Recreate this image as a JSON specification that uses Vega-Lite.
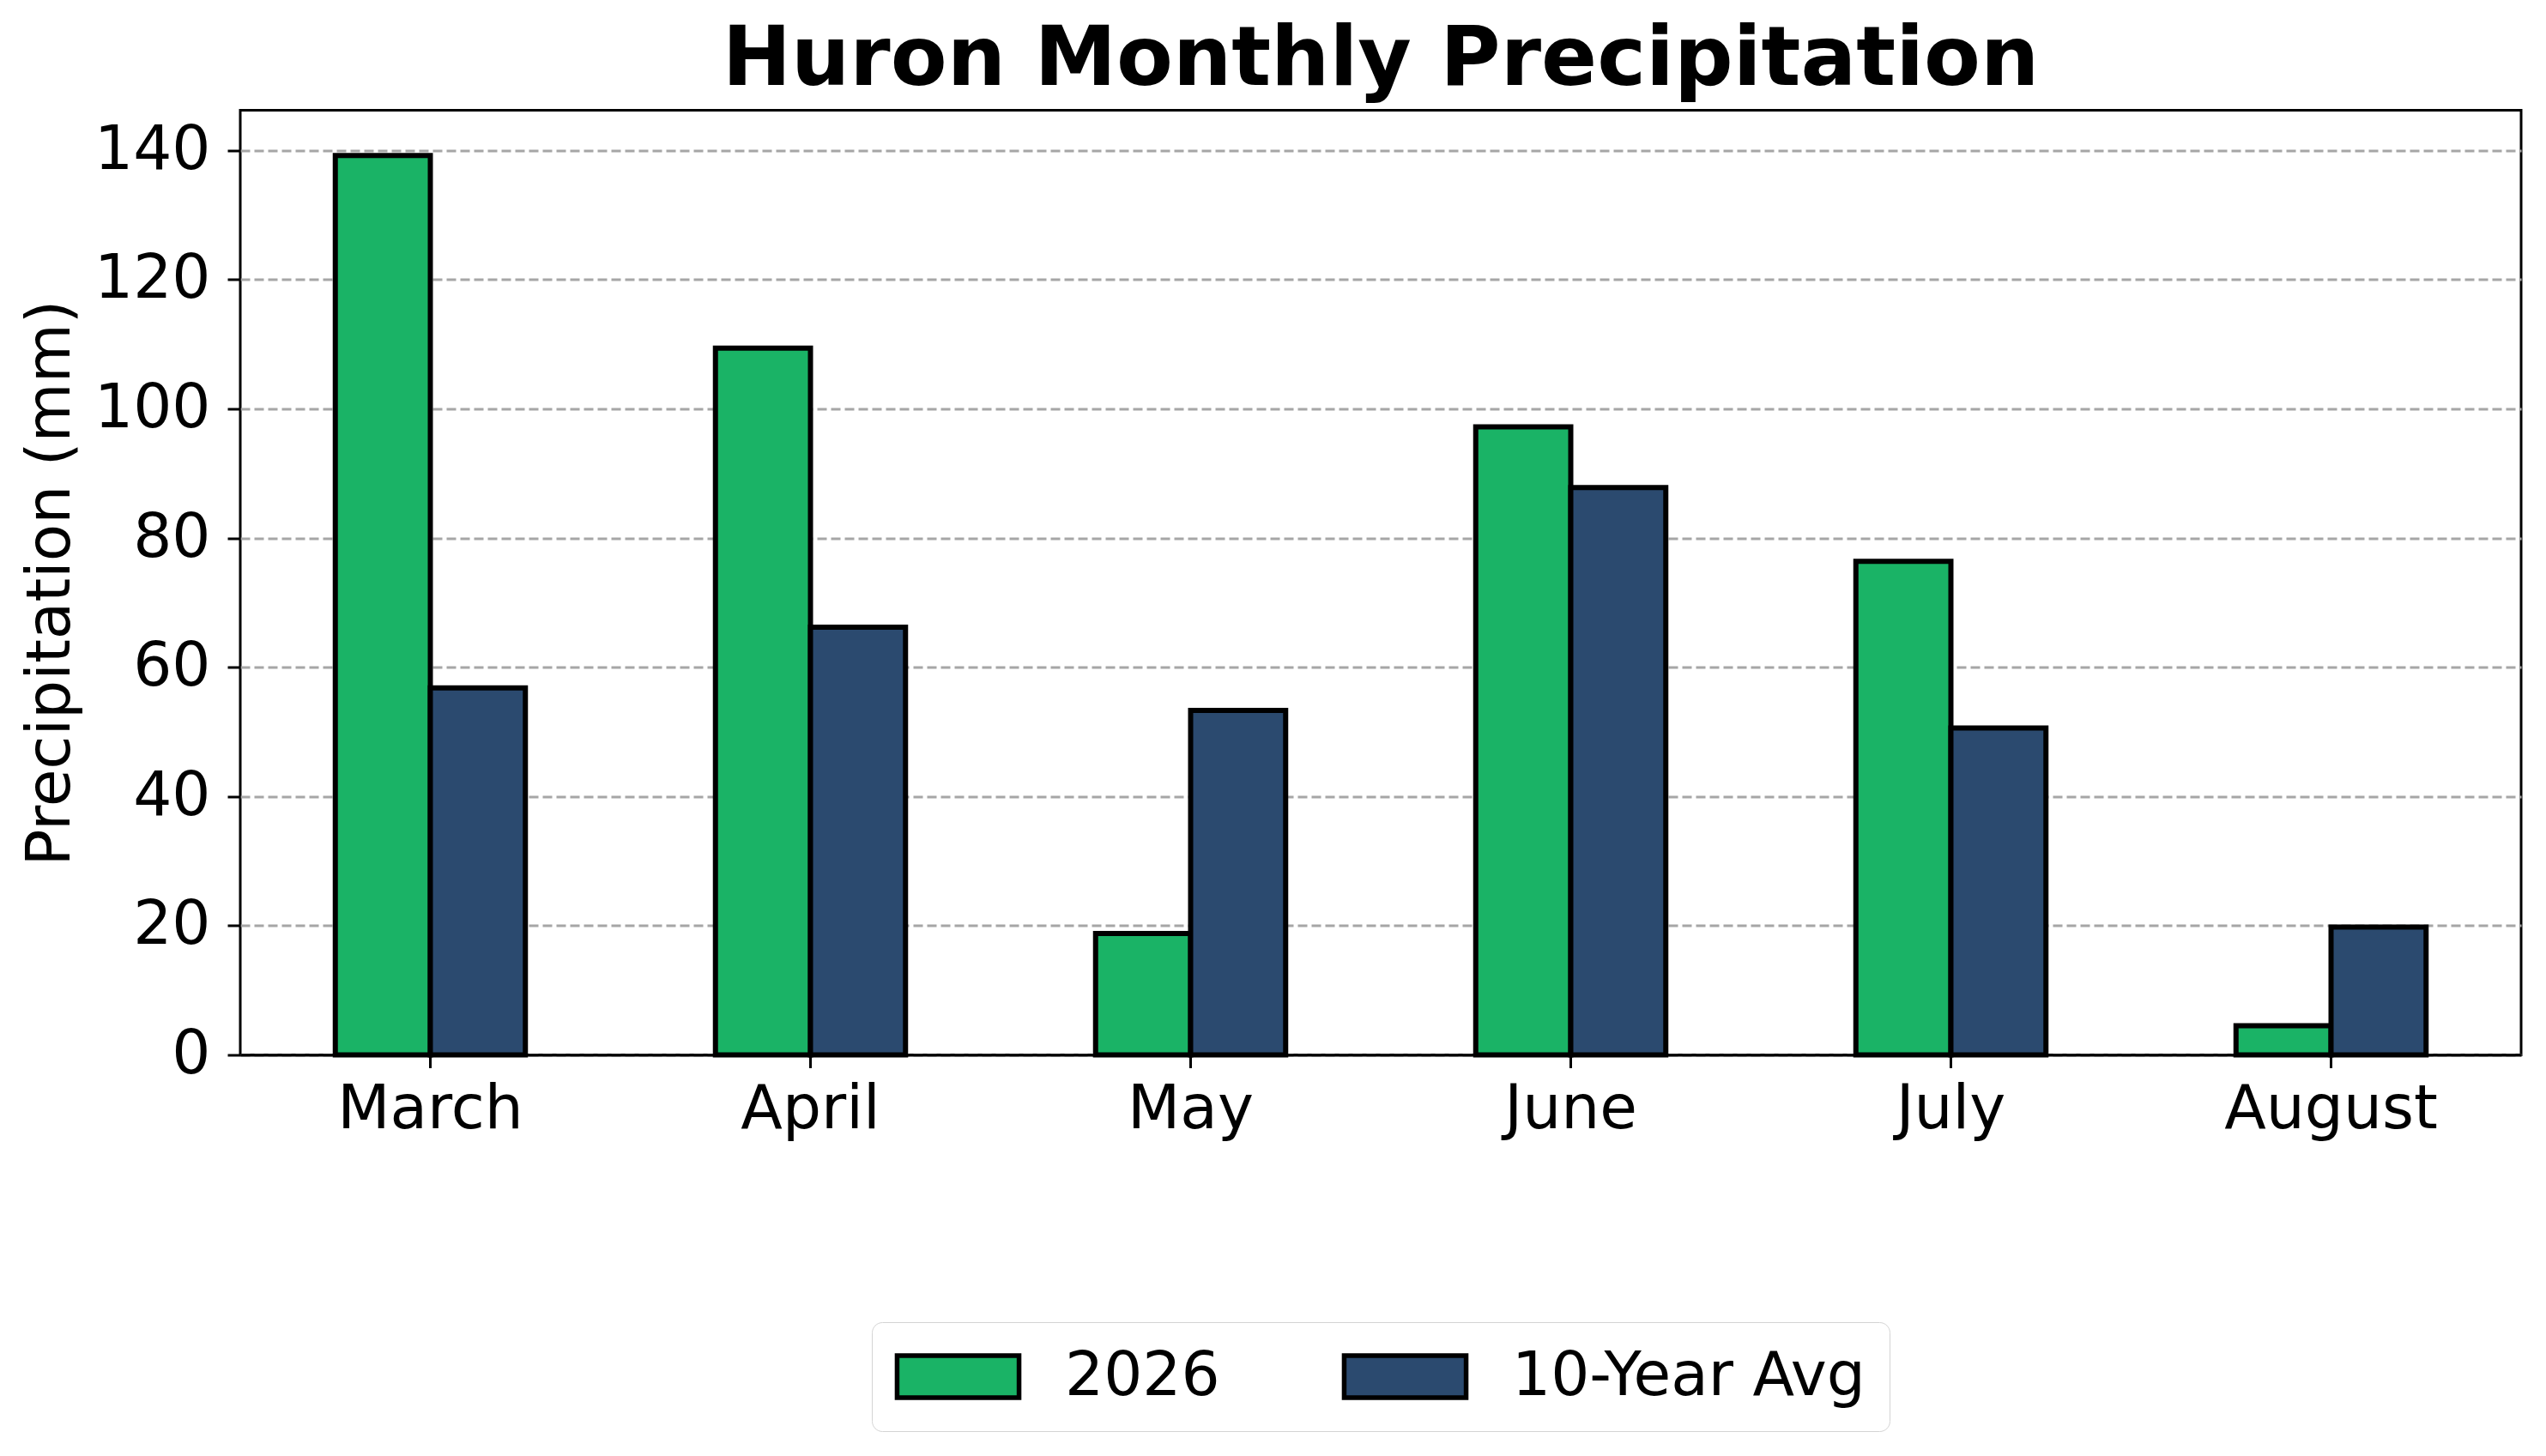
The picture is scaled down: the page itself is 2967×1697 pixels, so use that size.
{
  "$schema": "https://vega.github.io/schema/vega-lite/v6.json",
  "width": 2658,
  "height": 1101,
  "autosize": {"type": "none"},
  "padding": {"left": 280, "top": 128.5, "right": 29, "bottom": 467.5},
  "background": "white",
  "title": {
    "text": "Huron Monthly Precipitation",
    "font": "DejaVu Sans",
    "fontSize": 96,
    "fontWeight": "bold",
    "color": "black",
    "anchor": "middle",
    "frame": "group",
    "baseline": "alphabetic",
    "offset": -66
  },
  "data": {
    "values": [
      {"month": "March", "series": "2026", "precip": 139.2},
      {"month": "March", "series": "10-Year Avg", "precip": 56.8},
      {"month": "April", "series": "2026", "precip": 109.4},
      {"month": "April", "series": "10-Year Avg", "precip": 66.2},
      {"month": "May", "series": "2026", "precip": 18.8},
      {"month": "May", "series": "10-Year Avg", "precip": 53.3},
      {"month": "June", "series": "2026", "precip": 97.2},
      {"month": "June", "series": "10-Year Avg", "precip": 87.8},
      {"month": "July", "series": "2026", "precip": 76.4},
      {"month": "July", "series": "10-Year Avg", "precip": 50.6},
      {"month": "August", "series": "2026", "precip": 4.5},
      {"month": "August", "series": "10-Year Avg", "precip": 19.8}
    ]
  },
  "mark": {"type": "bar", "stroke": "black", "strokeWidth": 6},
  "encoding": {
    "x": {
      "field": "month",
      "type": "nominal",
      "sort": ["March", "April", "May", "June", "July", "August"],
      "scale": {"paddingInner": 0.5, "paddingOuter": 0.25},
      "axis": {
        "title": null,
        "labelAngle": 0,
        "labelBaseline": "alphabetic",
        "labelPadding": 70,
        "labelLimit": 2000,
        "grid": false,
        "domain": true,
        "domainColor": "black",
        "domainWidth": 3,
        "zindex": 1
      }
    },
    "xOffset": {
      "field": "series",
      "type": "nominal",
      "sort": ["2026", "10-Year Avg"],
      "scale": {"paddingInner": 0, "paddingOuter": 0}
    },
    "y": {
      "field": "precip",
      "type": "quantitative",
      "scale": {"domain": [0, 146.2], "nice": false, "zero": true},
      "axis": {
        "title": "Precipitation (mm)",
        "values": [0, 20, 40, 60, 80, 100, 120, 140],
        "labelPadding": 20,
        "labelBaseline": "middle",
        "grid": true,
        "gridColor": "#a6a6a6",
        "gridDash": [11, 5],
        "gridWidth": 2.8,
        "titlePadding": 29,
        "titleBaseline": "alphabetic"
      }
    },
    "color": {
      "field": "series",
      "type": "nominal",
      "sort": ["2026", "10-Year Avg"],
      "scale": {"domain": ["2026", "10-Year Avg"], "range": ["#1ab366", "#2b4a6f"]},
      "legend": {
        "title": null,
        "orient": "none",
        "legendX": 736,
        "legendY": 1412.5,
        "direction": "horizontal",
        "columns": 2,
        "padding": 28,
        "strokeColor": "#d4d4d4",
        "cornerRadius": 12,
        "fillColor": "white",
        "labelFont": "DejaVu Sans",
        "labelFontSize": 71,
        "labelColor": "black",
        "labelLimit": 2000,
        "symbolType": "M-2.9,-1H2.9V1H-2.9Z",
        "symbolSize": 2401,
        "symbolStrokeColor": "black",
        "symbolStrokeWidth": 5.5,
        "symbolOpacity": 1,
        "symbolOffset": 37,
        "labelOffset": 89,
        "columnPadding": 133
      }
    }
  },
  "config": {
    "view": {"stroke": "black", "strokeWidth": 3},
    "font": "DejaVu Sans",
    "axis": {
      "domain": false,
      "labelFont": "DejaVu Sans",
      "labelFontSize": 71,
      "labelColor": "black",
      "ticks": true,
      "tickColor": "black",
      "tickWidth": 3,
      "tickSize": 15,
      "titleFont": "DejaVu Sans",
      "titleFontSize": 71,
      "titleFontWeight": "normal",
      "titleColor": "black"
    }
  }
}
